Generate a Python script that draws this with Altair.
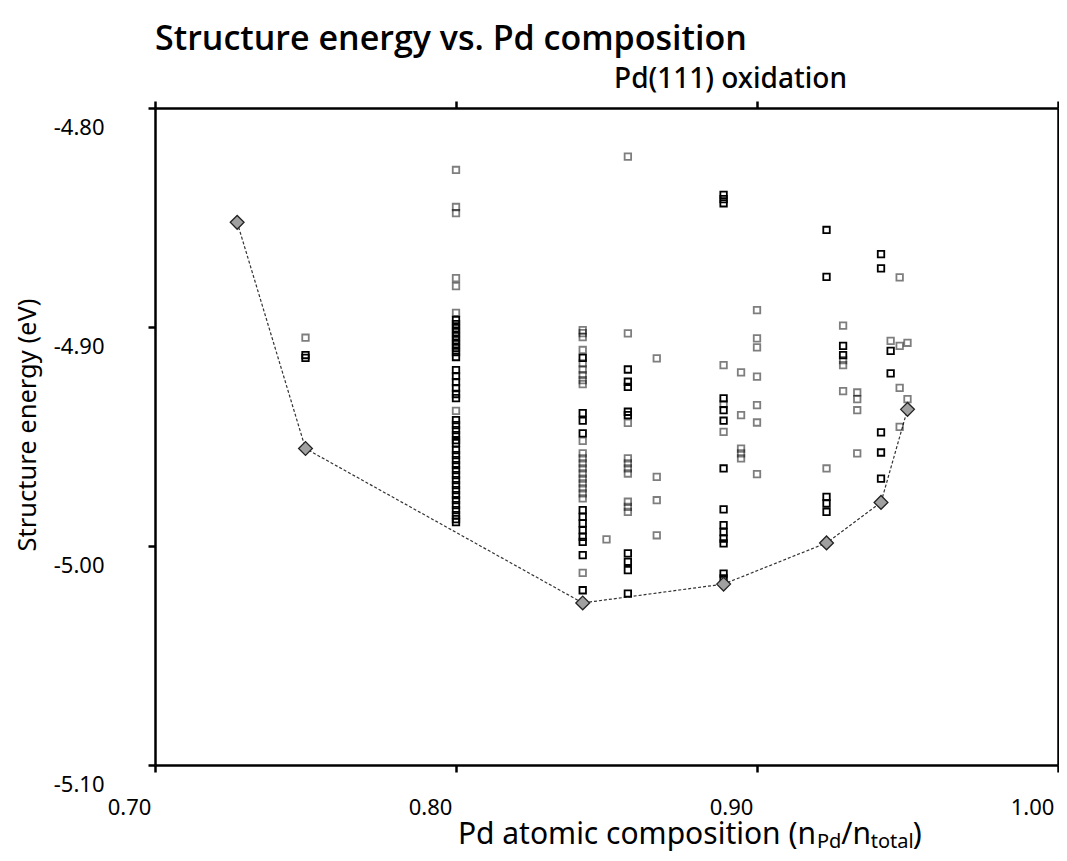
import altair as alt
import pandas as pd

FONT = "Noto Sans"

# ---------------- data ----------------
hull_x = [0.7273, 0.7500, 0.8421, 0.8889, 0.9231, 0.9412, 0.9500]
hull_e = [-4.8522, -4.9555, -5.0260, -5.0174, -4.9986, -4.9801, -4.9376]

comp_x = [0.7500, 0.8000, 0.8421, 0.8500, 0.8571, 0.8667, 0.8889, 0.8947,
          0.9000, 0.9231, 0.9286, 0.9333, 0.9412, 0.9444, 0.9474, 0.9500]

light_e = [
    [-4.9049],
    [-4.8283, -4.8452, -4.8480, -4.8777, -4.8813, -4.8935, -4.9383],
    [-4.9014, -4.9028, -4.9046, -4.9105, -4.9166, -4.9194, -4.9220, -4.9243,
     -4.9261, -4.9520, -4.9577, -4.9600, -4.9623, -4.9646, -4.9669, -4.9692,
     -4.9714, -4.9737, -4.9760, -4.9783, -5.0123],
    [-4.9970],
    [-4.8222, -4.9029, -4.9438, -4.9600, -4.9623, -4.9646, -4.9669, -4.9798,
     -4.9821, -4.9844],
    [-4.9143, -4.9684, -4.9791, -4.9951],
    [-4.9174, -4.9352, -4.9479],
    [-4.9207, -4.9402, -4.9555, -4.9577, -4.9600],
    [-4.8923, -4.9052, -4.9093, -4.9227, -4.9357, -4.9436, -4.9672],
    [-4.9646],
    [-4.8994, -4.9151, -4.9174, -4.9293],
    [-4.9299, -4.9329, -4.9380, -4.9577],
    [],
    [-4.9063],
    [-4.8773, -4.9086, -4.9278, -4.9456],
    [-4.9072, -4.9329],
]

dark_e = [
    [-4.9128, -4.9141],
    [-4.8968, -4.8987, -4.9005, -4.9023, -4.9042, -4.9060, -4.9078, -4.9096,
     -4.9115, -4.9137, -4.9197, -4.9224, -4.9252, -4.9279, -4.9306, -4.9325,
     -4.9425, -4.9448, -4.9471, -4.9494, -4.9517, -4.9530, -4.9562, -4.9585,
     -4.9608, -4.9631, -4.9654, -4.9676, -4.9699, -4.9722, -4.9745, -4.9768,
     -4.9791, -4.9813, -4.9836, -4.9859, -4.9877, -4.9891],
    [-4.9141, -4.9393, -4.9428, -4.9486, -4.9836, -4.9867, -4.9897, -4.9928,
     -4.9958, -4.9981, -5.0042, -5.0202],
    [],
    [-4.9194, -4.9250, -4.9273, -4.9387, -4.9402, -5.0034, -5.0072, -5.0110,
     -5.0217],
    [],
    [-4.8397, -4.8416, -4.8435, -4.9326, -4.9380, -4.9428, -4.9646, -4.9833,
     -4.9905, -4.9936, -4.9966, -4.9988, -5.0126, -5.0148],
    [],
    [],
    [-4.8557, -4.8771, -4.9776, -4.9806, -4.9844],
    [-4.9086, -4.9128],
    [],
    [-4.8667, -4.8732, -4.9481, -4.9573, -4.9692],
    [-4.9109, -4.9212],
    [],
    [],
]

x_ticks = [0.70, 0.80, 0.90, 1.00]
y_ticks = [-5.10, -5.00, -4.90, -4.80]

# ---------------- tables ----------------
rows = []
for cx, le, de in zip(comp_x, light_e, dark_e):
    for e in le:
        rows.append({"x": cx, "e": e, "shade": "light"})
    for e in de:
        rows.append({"x": cx, "e": e, "shade": "dark"})
pts_df = pd.DataFrame(rows)
hull_df = pd.DataFrame({"x": hull_x, "e": hull_e})
one = pd.DataFrame({"k": [0]})

W, H = 903, 657

x_scale = alt.Scale(domain=[0.70, 1.00], nice=False, zero=False)
y_scale = alt.Scale(domain=[-5.10, -4.80], nice=False, zero=False)

LABEL_EXPR = "(datum.value < 0 ? '-' : '') + format(abs(datum.value), '.2f')"

common = dict(grid=False, domainColor="black", domainWidth=2.5,
              tickColor="black", tickWidth=2.5, tickSize=7,
              labelFont=FONT, labelColor="black", labelFontSize=22)

bottom_axis = alt.Axis(orient="bottom", values=x_ticks, labelExpr=LABEL_EXPR, title=None,
                       labelPadding=25, labelOffset=-26, labelFlush=False,
                       labelOverlap=False, **common)
left_axis = alt.Axis(orient="left", values=y_ticks, labelExpr=LABEL_EXPR,
                     title="Structure energy (eV)", labelPadding=44, labelOffset=19,
                     labelFlush=False, labelOverlap=False,
                     titleFont=FONT, titleFontSize=25.5, titleFontWeight="normal",
                     titleColor="black", titleX=-128, titleY=H / 2 - 12, titleAngle=270,
                     titleAlign="center", titleBaseline="middle", **common)
top_axis = alt.Axis(orient="top", values=x_ticks, labels=False,
                    title="Pd(111) oxidation", titleFont=FONT, titleFontSize=28,
                    titleFontWeight=500, titleColor="black", titleX=575, titleY=-29,
                    titleAlign="center", titleBaseline="middle", **common)
right_axis = alt.Axis(orient="right", values=y_ticks, labels=False, ticks=False,
                      title=None, **common)

line = alt.Chart(hull_df).mark_line(
    strokeDash=[3, 2], color="#333333", strokeWidth=1.2
).encode(
    x=alt.X("x:Q", scale=x_scale, axis=bottom_axis),
    y=alt.Y("e:Q", scale=y_scale, axis=left_axis),
)

pts = alt.Chart(pts_df).mark_point(
    shape="square", filled=False, size=42, strokeWidth=1.8, color="black"
).encode(
    x=alt.X("x:Q", scale=x_scale, axis=None),
    y=alt.Y("e:Q", scale=y_scale, axis=None),
    opacity=alt.Opacity("shade:N", scale=alt.Scale(domain=["light", "dark"], range=[0.5, 1.0]),
                        legend=None),
)

diam = alt.Chart(hull_df).mark_point(
    shape="diamond", filled=True, size=190, fill="#a0a0a0", stroke="#222222",
    strokeWidth=1.3, opacity=1
).encode(
    x=alt.X("x:Q", scale=x_scale, axis=top_axis),
    y=alt.Y("e:Q", scale=y_scale, axis=right_axis),
)

# x-axis title with subscripts, built from text pieces
MAIN_FS, SUB_FS = 30, 20
x0 = 661
base_y = 736
sub_y = base_y + 4
w_pd = 1.216 * SUB_FS
w_slash_n = 0.982 * MAIN_FS
w_total = 2.101 * SUB_FS


def piece(text, x, y, fs, align="left"):
    return alt.Chart(one).mark_text(
        text=text, align=align, baseline="alphabetic", font=FONT, fontSize=fs,
        color="black"
    ).encode(x=alt.value(x), y=alt.value(y))


xt = [
    piece("Pd atomic composition (n", x0, base_y, MAIN_FS, align="right"),
    piece("Pd", x0 + 1, sub_y, SUB_FS),
    piece("/n", x0 + 1 + w_pd, base_y, MAIN_FS),
    piece("total", x0 + 1 + w_pd + w_slash_n, sub_y, SUB_FS),
    piece(")", x0 + 1 + w_pd + w_slash_n + w_total, base_y, MAIN_FS),
]

chart = alt.layer(line, pts, diam, *xt).resolve_axis(
    x="independent", y="independent"
).properties(
    width=W, height=H,
    title=alt.TitleParams(text="Structure energy vs. Pd composition", anchor="start",
                          frame="group", font="Open Sans", fontSize=34, fontWeight=600,
                          color="black", offset=8),
    autosize=alt.AutoSizeParams(type="none"),
    padding={"left": 147, "top": 100, "right": 1, "bottom": 88},
).configure_view(stroke=None).configure(background="white")

chart.save("out.html", embed_options={"renderer": "svg", "actions": False})
